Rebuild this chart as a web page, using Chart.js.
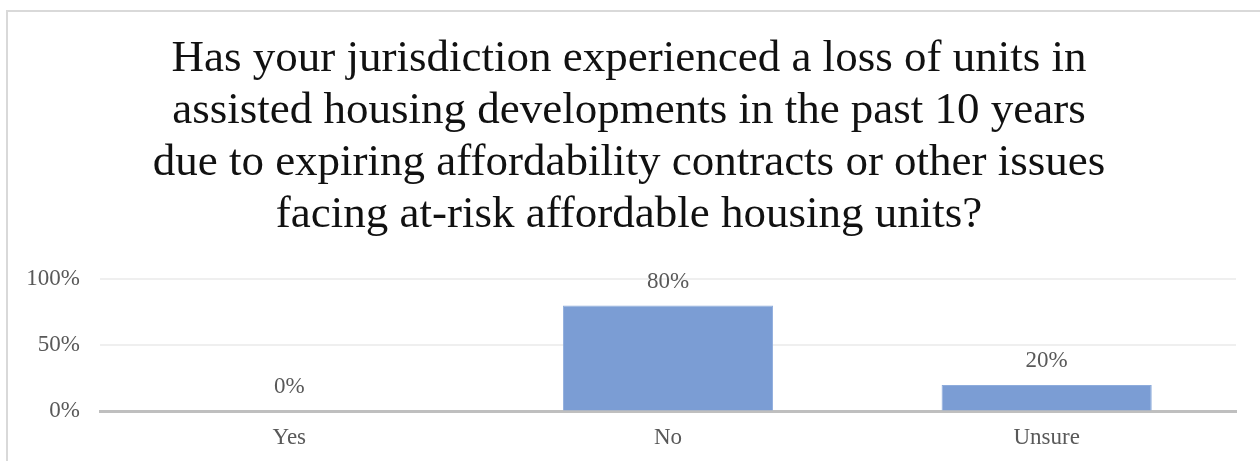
<!DOCTYPE html>
<html>
<head>
<meta charset="utf-8">
<script src="https://cdn.jsdelivr.net/npm/chart.js@4/dist/chart.umd.min.js"></script>
<style>
  html, body { margin: 0; padding: 0; background: #fff; overflow: hidden; }
  #wrap { position: relative; width: 1260px; height: 461px; overflow: hidden; }
  #frame { position: absolute; left: 6px; top: 10px; width: 1300px; height: 500px;
           border-left: 2px solid #d9d9d9; border-top: 2px solid #d9d9d9; box-sizing: border-box; }
  canvas { position: absolute; left: 0; top: 0; }
</style>
</head>
<body>
<div id="wrap">
  <div id="frame"></div>
  <canvas id="c" width="1260" height="465"></canvas>
</div>
<script>
const titleLines = [
  'Has your jurisdiction experienced a loss of units in',
  'assisted housing developments in the past 10 years',
  'due to expiring affordability contracts or other issues',
  'facing at-risk affordable housing units?'
];
const categories = ['Yes', 'No', 'Unsure'];
const shares = [0, 80, 20];
const yTicks = [0, 50, 100];

const serif = '"Liberation Serif", "Times New Roman", serif';
const labelColor = '#595959';
const labelSize = 23;

// Percentage labels above each bar
const valueLabels = {
  id: 'valueLabels',
  afterDatasetsDraw(chart) {
    const ctx = chart.ctx;
    const meta = chart.getDatasetMeta(0);
    const data = chart.data.datasets[0].data;
    ctx.save();
    ctx.font = labelSize + 'px ' + serif;
    ctx.fillStyle = labelColor;
    ctx.textAlign = 'center';
    ctx.textBaseline = 'middle';
    meta.data.forEach((bar, i) => {
      ctx.fillText(data[i] + '%', bar.x, bar.y - 24);
    });
    ctx.restore();
  }
};

new Chart(document.getElementById('c'), {
  type: 'bar',
  data: {
    labels: categories,
    datasets: [{
      data: shares,
      backgroundColor: '#7b9dd4',
      borderColor: '#8eacdc',
      borderWidth: 1,
      categoryPercentage: 1,
      barPercentage: 0.555
    }]
  },
  options: {
    responsive: false,
    animation: false,
    layout: { padding: { left: 22, right: 24, top: 0, bottom: 0 } },
    plugins: {
      legend: { display: false },
      tooltip: { enabled: false },
      title: {
        display: true,
        text: titleLines,
        color: '#111',
        font: { family: serif, size: 45, weight: 'normal', lineHeight: 52 / 45 },
        padding: { top: 33, bottom: 38 }
      }
    },
    scales: {
      x: {
        grid: { display: false, drawTicks: false },
        border: { display: true, color: '#bfbfbf', width: 3 },
        ticks: { color: labelColor, font: { family: serif, size: labelSize }, padding: 13 }
      },
      y: {
        min: 0,
        max: 100,
        afterBuildTicks(axis) { axis.ticks = yTicks.map(v => ({ value: v })); },
        afterFit(axis) { axis.width = 78; },
        grid: {
          drawTicks: false,
          color: ctx => ctx.tick && ctx.tick.value === 0 ? 'rgba(0,0,0,0)' : '#efefef',
          lineWidth: 2
        },
        border: { display: false },
        ticks: {
          color: labelColor,
          font: { family: serif, size: labelSize },
          padding: 20,
          callback: v => v + '%'
        }
      }
    }
  },
  plugins: [valueLabels]
});
</script>
</body>
</html>
